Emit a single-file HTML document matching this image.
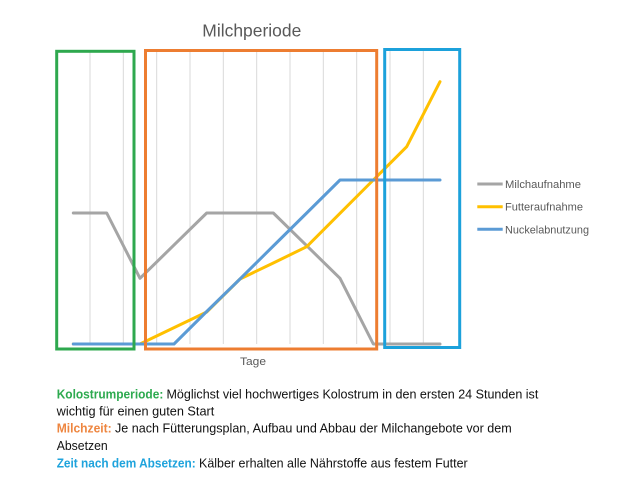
<!DOCTYPE html>
<html><head><meta charset="utf-8"><style>
html,body{margin:0;padding:0;background:#fff;}
svg{display:block;}
text{font-family:"Liberation Sans",sans-serif;}
</style></head><body>
<svg width="622" height="478" viewBox="0 0 622 478" xmlns="http://www.w3.org/2000/svg">
<rect width="622" height="478" fill="#fff"/>
<text x="202.3" y="36.7" font-size="17.5" fill="#595959" textLength="99" lengthAdjust="spacingAndGlyphs">Milchperiode</text>
<g stroke="#D9D9D9" stroke-width="1">
<line x1="90" y1="50" x2="90" y2="344"/>
<line x1="123.3" y1="50" x2="123.3" y2="344"/>
<line x1="156.7" y1="50" x2="156.7" y2="344"/>
<line x1="190" y1="50" x2="190" y2="344"/>
<line x1="223.3" y1="50" x2="223.3" y2="344"/>
<line x1="256.7" y1="50" x2="256.7" y2="344"/>
<line x1="290" y1="50" x2="290" y2="344"/>
<line x1="323.3" y1="50" x2="323.3" y2="344"/>
<line x1="356.7" y1="50" x2="356.7" y2="344"/>
<line x1="390" y1="50" x2="390" y2="344"/>
<line x1="423.3" y1="50" x2="423.3" y2="344"/>
</g>
<g fill="none" stroke-width="3" stroke-linejoin="round" stroke-linecap="round">
<polyline stroke="#A5A5A5" points="73.3,213 106.7,213 140,278.3 173.3,245.7 206.7,213 240,213 273.3,213 306.7,245.7 340,278.3 373.3,344 406.7,344 440,344"/>
<polyline stroke="#FFC000" points="73.3,344 106.7,344 140,344 173.3,328 206.7,312 240,279 273.3,263 306.7,246.7 340,213.3 373.3,180 406.7,146.7 440,81.7"/>
<polyline stroke="#5B9BD5" points="73.3,344 106.7,344 140,344 174,344 206.7,311.5 240,279 273.3,246 306.7,213 340,180 373.3,180 406.7,180 440,180"/>
</g>
<g fill="none" stroke-width="3">
<rect x="56.7" y="51.3" width="77.3" height="297.7" stroke="#2EA84E"/>
<rect x="145.5" y="50.5" width="231.2" height="298.5" stroke="#ED7D31"/>
<rect x="384.7" y="49.5" width="75" height="298" stroke="#1CA1DB"/>
</g>
<text x="240" y="365" font-size="11" fill="#595959" textLength="26" lengthAdjust="spacingAndGlyphs">Tage</text>
<g stroke-width="3">
<line x1="477.3" y1="184" x2="502.7" y2="184" stroke="#A5A5A5"/>
<line x1="477.3" y1="206.7" x2="502.7" y2="206.7" stroke="#FFC000"/>
<line x1="477.3" y1="229.3" x2="502.7" y2="229.3" stroke="#5B9BD5"/>
</g>
<g font-size="11" fill="#595959">
<text x="505" y="188" textLength="76" lengthAdjust="spacingAndGlyphs">Milchaufnahme</text>
<text x="505" y="210.7" textLength="78" lengthAdjust="spacingAndGlyphs">Futteraufnahme</text>
<text x="505" y="233.3" textLength="84" lengthAdjust="spacingAndGlyphs">Nuckelabnutzung</text>
</g>
<g font-size="12.5" fill="#111">
<text x="56.7" y="398.3" font-weight="bold" fill="#2DAA4F" textLength="106.6" lengthAdjust="spacingAndGlyphs">Kolostrumperiode:</text>
<text x="166.5" y="398.3" textLength="371.8" lengthAdjust="spacingAndGlyphs">Möglichst viel hochwertiges Kolostrum in den ersten 24 Stunden ist</text>
<text x="56.7" y="415.3" textLength="157.6" lengthAdjust="spacingAndGlyphs">wichtig für einen guten Start</text>
<text x="56.7" y="432.3" font-weight="bold" fill="#EE8640" textLength="55" lengthAdjust="spacingAndGlyphs">Milchzeit:</text>
<text x="115" y="432.3" textLength="396.7" lengthAdjust="spacingAndGlyphs">Je nach Fütterungsplan, Aufbau und Abbau der Milchangebote vor dem</text>
<text x="56.7" y="450" textLength="51" lengthAdjust="spacingAndGlyphs">Absetzen</text>
<text x="56.7" y="467.3" font-weight="bold" fill="#1EA3DC" textLength="139" lengthAdjust="spacingAndGlyphs">Zeit nach dem Absetzen:</text>
<text x="199" y="467.3" textLength="268.7" lengthAdjust="spacingAndGlyphs">Kälber erhalten alle Nährstoffe aus festem Futter</text>
</g>
</svg>
</body></html>
